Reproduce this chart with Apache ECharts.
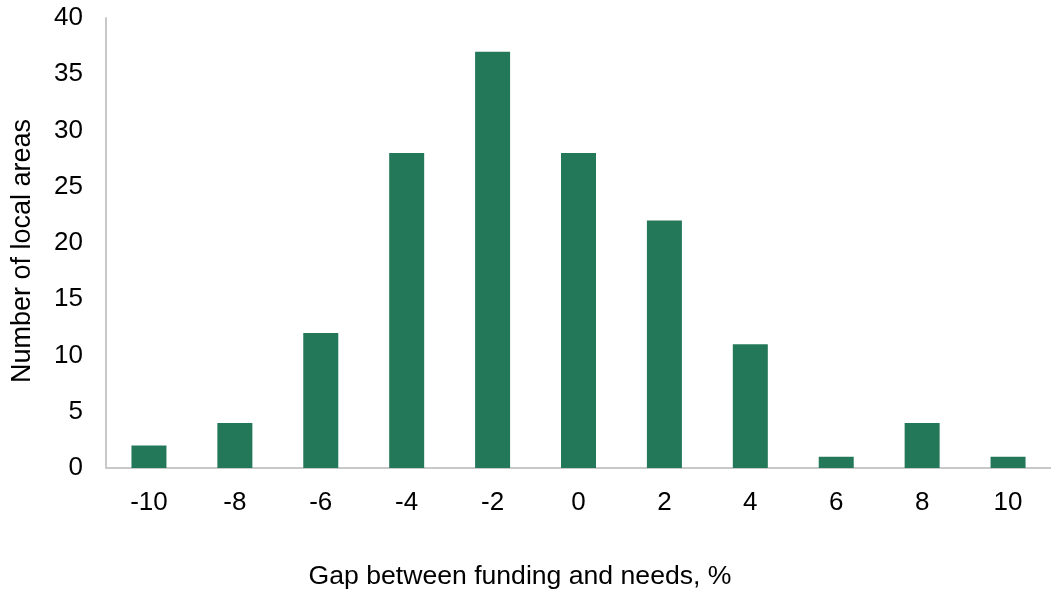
<!DOCTYPE html>
<html><head><meta charset="utf-8">
<script src="https://cdn.jsdelivr.net/npm/echarts@6/dist/echarts.min.js"></script>
<style>html,body{margin:0;padding:0;background:#fff}#c{width:1051px;height:595px}</style>
</head><body><div id="c"></div>
<script>
const categories = ['-10','-8','-6','-4','-2','0','2','4','6','8','10'];
const values = [2,4,12,28,37,28,22,11,1,4,1];
const yTicks = {min:0, max:40, interval:5};
const chart = echarts.init(document.getElementById('c'));
const font = 'Liberation Sans, Arial, sans-serif';
chart.setOption({
  animation:false,
  grid:{left:106, right:-8, top:18, bottom:123, containLabel:false},
  xAxis:{type:'category', data:categories,
    axisLine:{lineStyle:{color:'#c8c8c8', width:2}}, axisTick:{show:false},
    axisLabel:{color:'#000', fontSize:26, fontFamily:font, margin:22},
    name:'Gap between funding and needs, %', nameLocation:'middle', nameGap:95,
    nameTextStyle:{color:'#000', fontSize:26.6, fontFamily:font, padding:[0,117,0,0]}},
  yAxis:{type:'value', min:yTicks.min, max:yTicks.max, interval:yTicks.interval,
    axisLine:{show:true, lineStyle:{color:'#c8c8c8', width:2}}, axisTick:{show:false},
    splitLine:{show:false},
    axisLabel:{color:'#000', fontSize:26, fontFamily:font, margin:23},
    name:'Number of local areas', nameLocation:'middle', nameGap:70, nameRotate:90,
    nameTextStyle:{color:'#000', fontSize:27, fontFamily:font, padding:[0,16,0,0]}},
  series:[{type:'bar', data:values, barWidth:35, itemStyle:{color:'#24785a'}}]
});
</script></body></html>
